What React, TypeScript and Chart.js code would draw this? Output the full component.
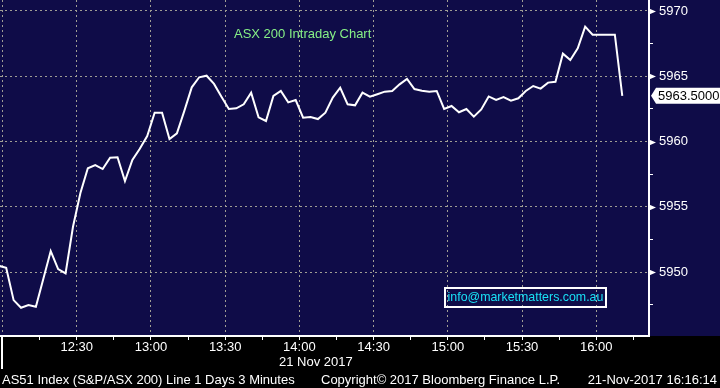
import React, { useEffect, useRef } from "react";
import { Chart, registerables } from "chart.js";

Chart.register(...registerables);

// ---- data ----
const startMinute = 718.5; // first 3-minute bar, minutes after midnight
const barMinutes = 3;
const closeValues = [
  5950.48, 5950.33, 5947.85, 5947.26, 5947.47, 5947.34, 5949.46, 5951.61, 5950.23, 5949.9,
  5953.47, 5956.05, 5957.95, 5958.2, 5957.89, 5958.76, 5958.79, 5956.97, 5958.58, 5959.45,
  5960.42, 5962.21, 5962.21, 5960.19, 5960.63, 5962.35, 5964.15, 5964.92, 5965.04, 5964.41,
  5963.43, 5962.49, 5962.54, 5962.85, 5963.74, 5961.85, 5961.57, 5963.49, 5963.87, 5963.0,
  5963.18, 5961.82, 5961.88, 5961.72, 5962.21, 5963.36, 5964.12, 5962.85, 5962.77, 5963.74,
  5963.43, 5963.62, 5963.82, 5963.87, 5964.38, 5964.79, 5964.02, 5963.89, 5963.82, 5963.87,
  5962.49, 5962.72, 5962.24, 5962.49, 5961.9, 5962.46, 5963.45, 5963.18, 5963.41, 5963.13,
  5963.31, 5963.87, 5964.25, 5964.05, 5964.51, 5964.58, 5966.73, 5966.25, 5967.14, 5968.8,
  5968.18, 5968.18, 5968.18, 5968.18, 5963.5,
];
const xMin = 719;
const xMax = 981.3;
const yMin = 5945.1;
const yMax = 5970.84;
const xTickStep = 15;
const xLabelStep = 30;
const firstLabelMinute = 750;
const yTickStep = 2.5;
const yLabelStep = 5;
const sessionStartMinute = 720;
const lastValueText = "5963.5000";
const titleText = "ASX 200 Intraday Chart";
const emailText = "info@marketmatters.com.au";
const dateText = "21 Nov 2017";
const footerLeft = "AS51 Index (S&P/ASX 200) Line 1 Days 3 Minutes";
const footerMid = "Copyright\u00a9 2017 Bloomberg Finance L.P.";
const footerRight = "21-Nov-2017 16:16:14";

const FONT = "'Liberation Sans', Arial, sans-serif";
const NAVY = "#0f0c48";
const GRID = "#a09e94";

const fmtTime = (m: number) => {
  const h = Math.floor(m / 60);
  const mm = Math.round(m % 60);
  return `${h}:${mm < 10 ? "0" : ""}${mm}`;
};

const decorPlugin = {
  id: "decor",
  beforeDraw(chart: any) {
    const { ctx, width, height, chartArea } = chart;
    ctx.save();
    ctx.fillStyle = "#000000";
    ctx.fillRect(0, 0, width, height);
    ctx.fillStyle = NAVY;
    ctx.fillRect(0, 0, width, chartArea.bottom);
    ctx.restore();
  },
  afterDraw(chart: any) {
    const { ctx, chartArea, scales } = chart;
    const ys = scales.y;
    const xs = scales.x;
    ctx.save();
    // major arrows on right axis
    ctx.fillStyle = "#ffffff";
    for (const t of ys.ticks) {
      if (Math.abs(t.value % yLabelStep) < 1e-6) {
        const y = Math.round(ys.getPixelForValue(t.value)) + 0.5;
        ctx.beginPath();
        ctx.moveTo(chartArea.right, y - 3);
        ctx.lineTo(chartArea.right + 7, y);
        ctx.lineTo(chartArea.right, y + 3);
        ctx.closePath();
        ctx.fill();
      }
    }
    // session start separator
    const sx = Math.round(xs.getPixelForValue(sessionStartMinute));
    ctx.fillRect(sx - 1, chartArea.bottom, 2, 33);

    ctx.textBaseline = "middle";
    ctx.textAlign = "left";
    // date under axis
    ctx.font = `13px ${FONT}`;
    ctx.fillStyle = "#ffffff";
    ctx.fillText(dateText, 279, 362);
    // footer
    ctx.fillText(footerLeft, 2, 380);
    ctx.fillText(footerMid, 321, 380);
    ctx.textAlign = "right";
    ctx.fillText(footerRight, 717, 380);

    // title
    ctx.textAlign = "left";
    ctx.fillStyle = "#86f086";
    ctx.font = `13px ${FONT}`;
    ctx.fillText(titleText, 234, 34);

    // email box
    ctx.strokeStyle = "#ffffff";
    ctx.lineWidth = 2;
    ctx.strokeRect(445, 288, 161, 19);
    ctx.fillStyle = "#19e0f5";
    ctx.textAlign = "center";
    ctx.font = `12.4px ${FONT}`;
    ctx.fillText(emailText, 525.5, 298);

    // last value label
    const lastV = closeValues[closeValues.length - 1];
    const ly = ys.getPixelForValue(lastV);
    const lx = chartArea.right + 2;
    ctx.fillStyle = "#ffffff";
    ctx.beginPath();
    ctx.moveTo(lx, ly);
    ctx.lineTo(lx + 5, ly - 8);
    ctx.lineTo(720, ly - 8);
    ctx.lineTo(720, ly + 8);
    ctx.lineTo(lx + 5, ly + 8);
    ctx.closePath();
    ctx.fill();
    ctx.fillStyle = "#000000";
    ctx.textAlign = "left";
    ctx.font = `13px ${FONT}`;
    ctx.fillText(lastValueText, lx + 7, ly + 0.5);
    ctx.restore();
  },
};

export default function App() {
  const ref = useRef<HTMLCanvasElement | null>(null);
  useEffect(() => {
    document.body.style.margin = "0";
    const canvas = ref.current;
    if (!canvas) return;
    const points = closeValues.map((v, i) => ({ x: startMinute + barMinutes * i, y: v }));
    const chart = new Chart(canvas, {
      type: "line",
      data: {
        datasets: [
          {
            data: points,
            borderColor: "#ffffff",
            borderWidth: 2,
            pointRadius: 0,
            tension: 0,
            fill: false,
          },
        ],
      },
      options: {
        animation: false,
        responsive: true,
        maintainAspectRatio: false,
        events: [],
        layout: { padding: 0 },
        plugins: { legend: { display: false }, tooltip: { enabled: false } },
        scales: {
          x: {
            type: "linear",
            position: "bottom",
            min: xMin,
            max: xMax,
            afterFit: (s: any) => {
              s.height = 52;
              s.paddingLeft = 0;
              s.paddingRight = 0;
              s.paddingTop = 0;
              s.paddingBottom = 0;
            },
            border: { display: true, color: "#ffffff", width: 2, dash: [2, 3] },
            grid: {
              color: (c: any) =>
                c.tick && c.tick.value % xLabelStep === 0 ? GRID : "rgba(0,0,0,0)",
              tickColor: "#ffffff",
              tickLength: 4,
              lineWidth: 1,
            },
            ticks: {
              stepSize: xTickStep,
              includeBounds: false,
              autoSkip: false,
              maxRotation: 0,
              color: "#ffffff",
              padding: 0,
              font: { family: FONT, size: 13 },
              callback: (v: any) =>
                v % xLabelStep === 0 && v >= firstLabelMinute ? fmtTime(v) : "",
            },
          },
          y: {
            type: "linear",
            position: "right",
            min: yMin,
            max: yMax,
            afterFit: (s: any) => {
              s.width = 71;
              s.paddingLeft = 0;
              s.paddingRight = 0;
              s.paddingTop = 0;
              s.paddingBottom = 0;
            },
            border: { display: true, color: "#ffffff", width: 2, dash: [2, 3] },
            grid: {
              color: (c: any) =>
                c.tick && Math.abs(c.tick.value % yLabelStep) < 1e-6 ? GRID : "rgba(0,0,0,0)",
              tickColor: (c: any) =>
                c.tick && Math.abs(c.tick.value % yLabelStep) < 1e-6 ? "rgba(0,0,0,0)" : "#ffffff",
              tickLength: 4,
              lineWidth: 1,
            },
            ticks: {
              stepSize: yTickStep,
              includeBounds: false,
              color: "#ffffff",
              padding: 6,
              font: { family: FONT, size: 13 },
              callback: (v: any) =>
                Math.abs(v % yLabelStep) < 1e-6 ? String(Math.round(v)) : "",
            },
          },
        },
      },
      plugins: [decorPlugin],
    });
    return () => chart.destroy();
  }, []);
  return (
    <div style={{ position: "relative", width: 720, height: 388 }}>
      <canvas ref={ref} />
    </div>
  );
}
